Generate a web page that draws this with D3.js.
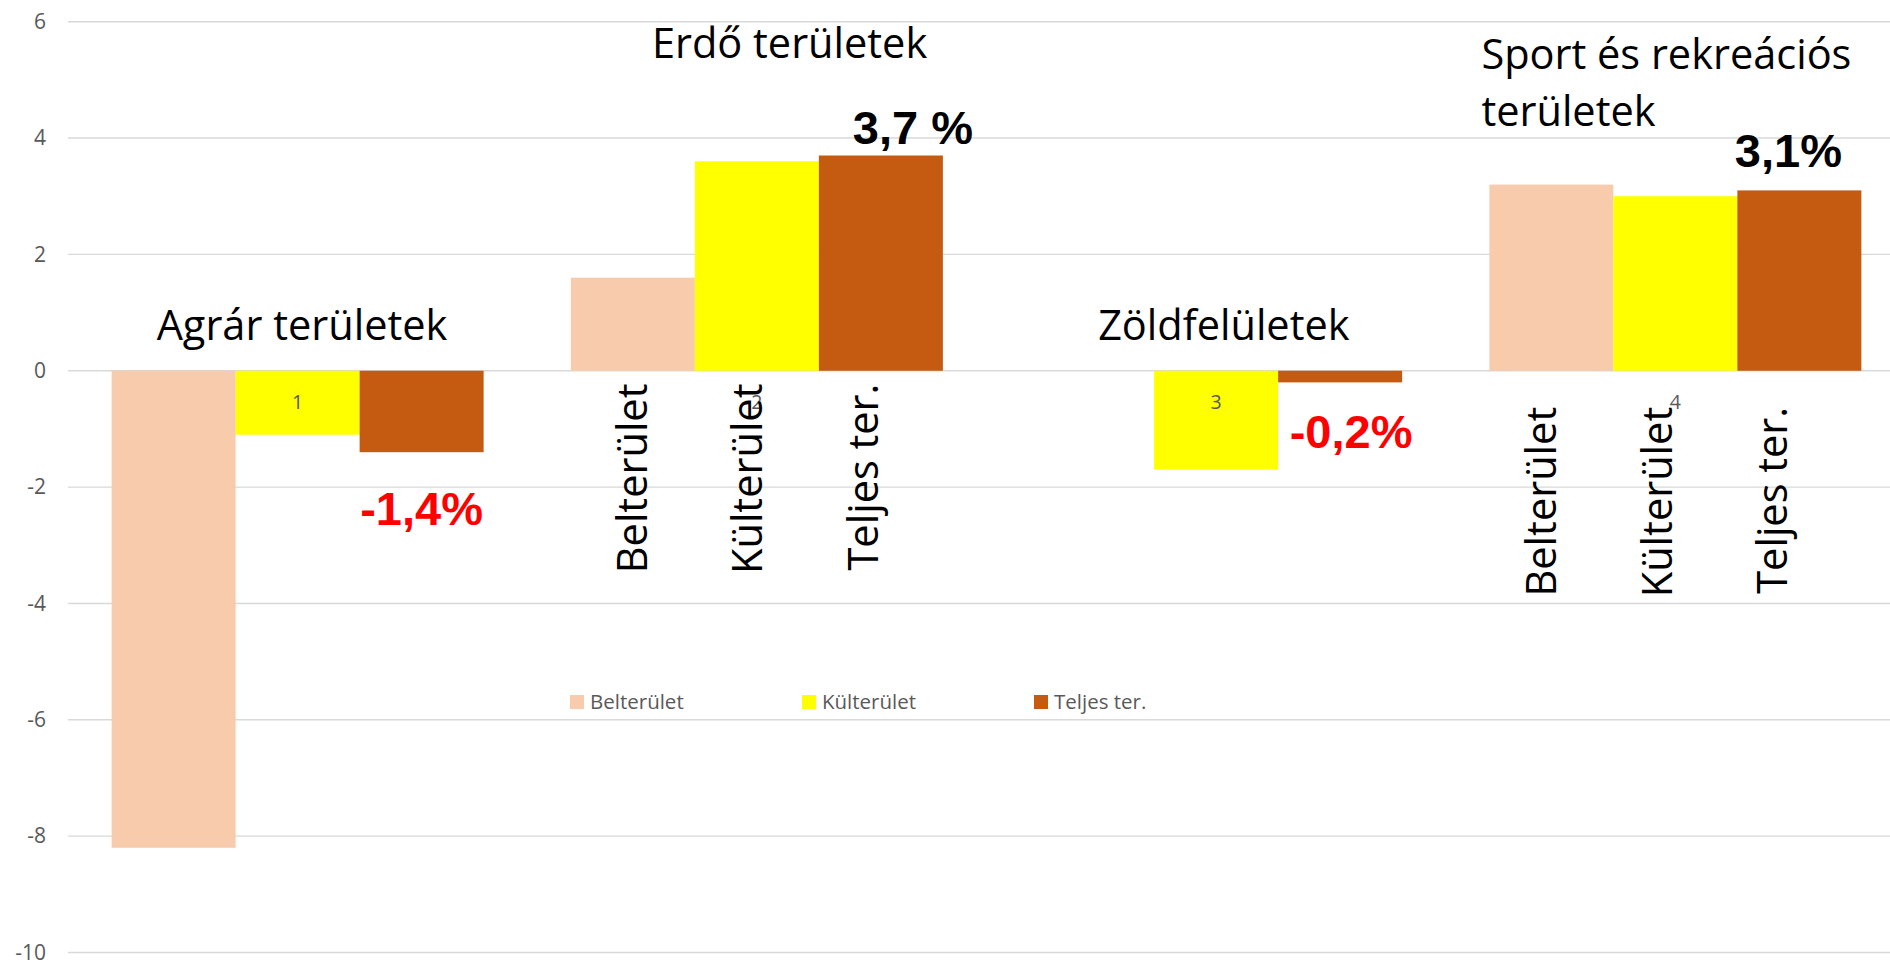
<!DOCTYPE html>
<html>
<head>
<meta charset="utf-8">
<script src="https://cdn.jsdelivr.net/npm/d3@7"></script>
<style>
  html, body { margin: 0; padding: 0; background: #fff; overflow: hidden; }
  svg { display: block; }
</style>
</head>
<body>
<div id="chart"></div>
<script>
// --- data ---
const categories = ['1', '2', '3', '4'];
const series = ['Belterület', 'Külterület', 'Teljes ter.'];
const belterulet = [-8.2, 1.6, 0, 3.2];
const kulterulet = [-1.1, 3.6, -1.7, 3.0];
const teljes = [-1.4, 3.7, -0.2, 3.1];
const groupTitles = [['Agrár területek'], ['Erdő területek'], ['Zöldfelületek'], ['Sport és rekreációs', 'területek']];
const valueLabels = ['-1,4%', '3,7 %', '-0,2%', '3,1%'];
const yTicks = [6, 4, 2, 0, -2, -4, -6, -8, -10];
const colors = ['#F8CBAD', '#FFFF00', '#C55A11'];

const width = 1890;
const height = 963;

const rows = categories.map((c, i) => ({
    key: c,
    values: [belterulet[i], kulterulet[i], teljes[i]]
}));

const svg = d3.select('#chart')
    .append('svg')
    .attr('width', width)
    .attr('height', height);

// scales
const x0 = d3.scaleBand()
    .domain(categories)
    .range([68, 1905])
    .paddingInner(0.19)
    .paddingOuter(0.095);
const x1 = d3.scaleBand()
    .domain(series)
    .range([0, x0.bandwidth()]);
const y = d3.scaleLinear()
    .domain([-10, 6])
    .range([952.5, 21.7]);

const font = "'Open Sans', 'Noto Sans', sans-serif";

// gridlines
svg.append('g')
    .selectAll('line')
    .data(yTicks)
    .enter()
    .append('line')
    .attr('x1', 68)
    .attr('x2', width)
    .attr('y1', d => y(d))
    .attr('y2', d => y(d))
    .attr('stroke', '#d9d9d9')
    .attr('stroke-width', 1.4);

// y axis labels (plain hyphen minus like the original)
const yAxis = d3.axisLeft(y)
    .tickValues(yTicks)
    .tickFormat(d => String(d))
    .tickSize(0)
    .tickPadding(0);
const yg = svg.append('g')
    .attr('transform', 'translate(46,0)')
    .call(yAxis);
yg.select('.domain').remove();
yg.selectAll('text')
    .style('font-family', font)
    .style('font-size', '21px')
    .attr('fill', '#595959');

// bars
const groups = svg.append('g')
    .selectAll('g')
    .data(rows)
    .enter()
    .append('g')
    .attr('transform', d => `translate(${x0(d.key)},0)`);

groups.selectAll('rect')
    .data(d => d.values.map((v, i) => ({ s: series[i], v: v, i: i })))
    .enter()
    .append('rect')
    .attr('x', d => x1(d.s))
    .attr('width', x1.bandwidth())
    .attr('y', d => y(Math.max(0, d.v)))
    .attr('height', d => Math.abs(y(d.v) - y(0)))
    .attr('fill', d => colors[d.i]);

// category labels (small grey numbers)
svg.append('g')
    .selectAll('text')
    .data(categories)
    .enter()
    .append('text')
    .attr('x', d => x0(d) + x0.bandwidth() / 2)
    .attr('y', y(-0.66))
    .attr('text-anchor', 'middle')
    .style('font-family', font)
    .style('font-size', '19.5px')
    .attr('fill', '#595959')
    .text(d => d);

// group titles
const titlePos = [
    { dx: 45, v: 0.52 },
    { dx: 81, v: 5.37 },
    { dx: 68, v: 0.52 },
    { dx: -8, v: 5.19 }
];
groupTitles.forEach((lines, i) => {
    const t = svg.append('text')
        .attr('x', x0(categories[i]) + titlePos[i].dx)
        .attr('y', y(titlePos[i].v))
        .style('font-family', font)
        .style('font-size', '41.5px')
        .attr('fill', '#000');
    lines.forEach((line, j) => {
        t.append('tspan')
            .attr('x', x0(categories[i]) + titlePos[i].dx)
            .attr('dy', j === 0 ? 0 : 56.7)
            .text(line);
    });
});

// vertical series labels under groups 2 and 4
const vertLabels = [
    { cat: '2', v: -0.22, shift: 14 },
    { cat: '4', v: -0.62, shift: 5 }
];
vertLabels.forEach(g => {
    series.forEach((s, i) => {
        const cx = x0(g.cat) + x1(s) + x1.bandwidth() / 2 + g.shift - i * 8.5;
        svg.append('text')
            .attr('transform', `translate(${cx},${y(g.v)}) rotate(-90)`)
            .attr('text-anchor', 'end')
            .style('font-family', font)
            .style('font-size', '41.5px')
            .attr('fill', '#000')
            .text(s);
    });
});

// bold value labels for total
const labelPos = [
    { dx: 0, v: -2.66 },
    { dx: 32, v: 3.9 },
    { dx: 11, v: -1.32 },
    { dx: -11, v: 3.5 }
];
svg.append('g')
    .selectAll('text')
    .data(valueLabels)
    .enter()
    .append('text')
    .attr('x', (d, i) => x0(categories[i]) + x1(series[2]) + x1.bandwidth() / 2 + labelPos[i].dx)
    .attr('y', (d, i) => y(labelPos[i].v))
    .attr('text-anchor', 'middle')
    .style('font-family', "'Liberation Sans', Arial, sans-serif")
    .style('font-weight', 'bold')
    .style('font-size', '47px')
    .attr('fill', (d, i) => teljes[i] < 0 ? '#FF0000' : '#000')
    .text(d => d);

// legend
const legend = svg.append('g')
    .attr('transform', 'translate(570,695)');
const items = legend.selectAll('g')
    .data(series)
    .enter()
    .append('g')
    .attr('transform', (d, i) => `translate(${i * 232},0)`);
items.append('rect')
    .attr('width', 14)
    .attr('height', 14)
    .attr('fill', (d, i) => colors[i]);
items.append('text')
    .attr('x', 20)
    .attr('y', 13.5)
    .style('font-family', font)
    .style('font-size', '20.5px')
    .attr('fill', '#595959')
    .text(d => d);
</script>
</body>
</html>
